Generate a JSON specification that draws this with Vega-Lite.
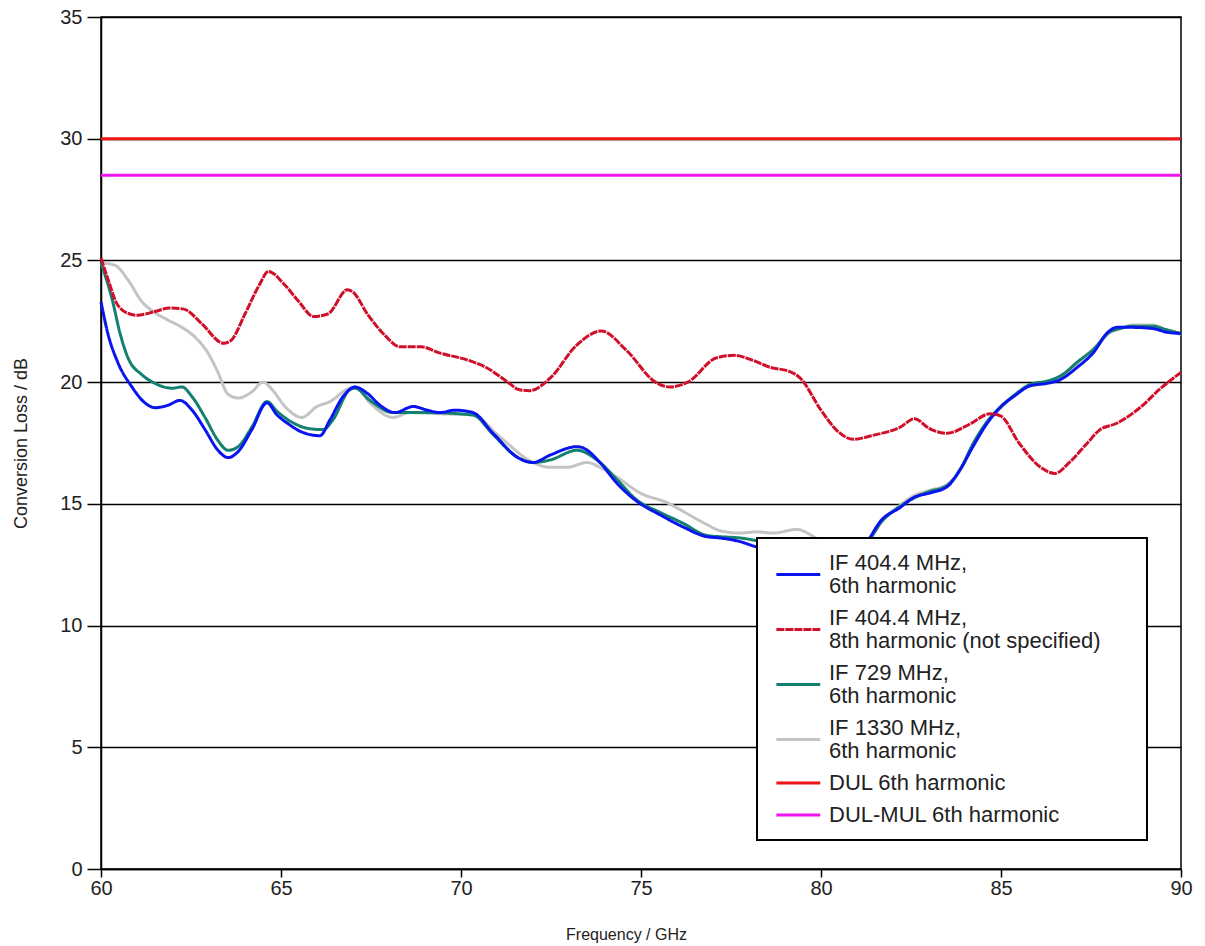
{
  "$schema": "https://vega.github.io/schema/vega-lite/v6.json",
  "width": 1080,
  "height": 852,
  "autosize": {"type": "none"},
  "padding": {"left": 101, "top": 17, "right": 24, "bottom": 77},
  "background": "white",
  "config": {
    "view": {"stroke": "black", "strokeWidth": 1.5},
    "font": "Liberation Sans"
  },
  "data": {"values": [
    {"s": "IF 1330 MHz, 6th harmonic", "f": 60.0, "v": 24.9},
    {"s": "IF 1330 MHz, 6th harmonic", "f": 60.39, "v": 24.8},
    {"s": "IF 1330 MHz, 6th harmonic", "f": 60.75, "v": 24.2},
    {"s": "IF 1330 MHz, 6th harmonic", "f": 61.14, "v": 23.3},
    {"s": "IF 1330 MHz, 6th harmonic", "f": 61.5, "v": 22.85},
    {"s": "IF 1330 MHz, 6th harmonic", "f": 61.86, "v": 22.55},
    {"s": "IF 1330 MHz, 6th harmonic", "f": 62.25, "v": 22.25},
    {"s": "IF 1330 MHz, 6th harmonic", "f": 62.61, "v": 21.85},
    {"s": "IF 1330 MHz, 6th harmonic", "f": 62.97, "v": 21.2},
    {"s": "IF 1330 MHz, 6th harmonic", "f": 63.25, "v": 20.4},
    {"s": "IF 1330 MHz, 6th harmonic", "f": 63.53, "v": 19.5},
    {"s": "IF 1330 MHz, 6th harmonic", "f": 63.81, "v": 19.35},
    {"s": "IF 1330 MHz, 6th harmonic", "f": 64.19, "v": 19.6},
    {"s": "IF 1330 MHz, 6th harmonic", "f": 64.5, "v": 20.0},
    {"s": "IF 1330 MHz, 6th harmonic", "f": 64.75, "v": 19.7},
    {"s": "IF 1330 MHz, 6th harmonic", "f": 65.11, "v": 19.0},
    {"s": "IF 1330 MHz, 6th harmonic", "f": 65.58, "v": 18.55},
    {"s": "IF 1330 MHz, 6th harmonic", "f": 66.0, "v": 19.0},
    {"s": "IF 1330 MHz, 6th harmonic", "f": 66.36, "v": 19.2},
    {"s": "IF 1330 MHz, 6th harmonic", "f": 66.83, "v": 19.7},
    {"s": "IF 1330 MHz, 6th harmonic", "f": 67.06, "v": 19.8},
    {"s": "IF 1330 MHz, 6th harmonic", "f": 67.47, "v": 19.15},
    {"s": "IF 1330 MHz, 6th harmonic", "f": 68.11, "v": 18.55},
    {"s": "IF 1330 MHz, 6th harmonic", "f": 68.58, "v": 18.75},
    {"s": "IF 1330 MHz, 6th harmonic", "f": 69.42, "v": 18.7},
    {"s": "IF 1330 MHz, 6th harmonic", "f": 70.33, "v": 18.65},
    {"s": "IF 1330 MHz, 6th harmonic", "f": 71.08, "v": 17.75},
    {"s": "IF 1330 MHz, 6th harmonic", "f": 72.0, "v": 16.7},
    {"s": "IF 1330 MHz, 6th harmonic", "f": 72.47, "v": 16.5},
    {"s": "IF 1330 MHz, 6th harmonic", "f": 72.94, "v": 16.5},
    {"s": "IF 1330 MHz, 6th harmonic", "f": 73.5, "v": 16.7},
    {"s": "IF 1330 MHz, 6th harmonic", "f": 73.86, "v": 16.5},
    {"s": "IF 1330 MHz, 6th harmonic", "f": 74.33, "v": 16.1},
    {"s": "IF 1330 MHz, 6th harmonic", "f": 74.97, "v": 15.45},
    {"s": "IF 1330 MHz, 6th harmonic", "f": 75.72, "v": 15.05},
    {"s": "IF 1330 MHz, 6th harmonic", "f": 76.28, "v": 14.6},
    {"s": "IF 1330 MHz, 6th harmonic", "f": 76.83, "v": 14.15},
    {"s": "IF 1330 MHz, 6th harmonic", "f": 77.19, "v": 13.9},
    {"s": "IF 1330 MHz, 6th harmonic", "f": 77.75, "v": 13.8},
    {"s": "IF 1330 MHz, 6th harmonic", "f": 78.22, "v": 13.85},
    {"s": "IF 1330 MHz, 6th harmonic", "f": 78.67, "v": 13.8},
    {"s": "IF 1330 MHz, 6th harmonic", "f": 79.33, "v": 13.95},
    {"s": "IF 1330 MHz, 6th harmonic", "f": 80.0, "v": 13.5},
    {"s": "IF 1330 MHz, 6th harmonic", "f": 80.7, "v": 13.3},
    {"s": "IF 1330 MHz, 6th harmonic", "f": 81.3, "v": 13.5},
    {"s": "IF 1330 MHz, 6th harmonic", "f": 81.7, "v": 14.3},
    {"s": "IF 1330 MHz, 6th harmonic", "f": 82.2, "v": 14.95},
    {"s": "IF 1330 MHz, 6th harmonic", "f": 82.6, "v": 15.35},
    {"s": "IF 1330 MHz, 6th harmonic", "f": 83.0, "v": 15.55},
    {"s": "IF 1330 MHz, 6th harmonic", "f": 83.5, "v": 15.8},
    {"s": "IF 1330 MHz, 6th harmonic", "f": 83.9, "v": 16.45},
    {"s": "IF 1330 MHz, 6th harmonic", "f": 84.2, "v": 17.4},
    {"s": "IF 1330 MHz, 6th harmonic", "f": 84.6, "v": 18.3},
    {"s": "IF 1330 MHz, 6th harmonic", "f": 85.0, "v": 18.95},
    {"s": "IF 1330 MHz, 6th harmonic", "f": 85.4, "v": 19.5},
    {"s": "IF 1330 MHz, 6th harmonic", "f": 85.8, "v": 19.85},
    {"s": "IF 1330 MHz, 6th harmonic", "f": 86.3, "v": 20.0},
    {"s": "IF 1330 MHz, 6th harmonic", "f": 86.7, "v": 20.25},
    {"s": "IF 1330 MHz, 6th harmonic", "f": 87.1, "v": 20.75},
    {"s": "IF 1330 MHz, 6th harmonic", "f": 87.6, "v": 21.35},
    {"s": "IF 1330 MHz, 6th harmonic", "f": 88.0, "v": 22.0},
    {"s": "IF 1330 MHz, 6th harmonic", "f": 88.3, "v": 22.2},
    {"s": "IF 1330 MHz, 6th harmonic", "f": 88.7, "v": 22.35},
    {"s": "IF 1330 MHz, 6th harmonic", "f": 89.2, "v": 22.35},
    {"s": "IF 1330 MHz, 6th harmonic", "f": 89.6, "v": 22.15},
    {"s": "IF 1330 MHz, 6th harmonic", "f": 90.0, "v": 21.95},

    {"s": "IF 729 MHz, 6th harmonic", "f": 60.0, "v": 24.9},
    {"s": "IF 729 MHz, 6th harmonic", "f": 60.31, "v": 23.4},
    {"s": "IF 729 MHz, 6th harmonic", "f": 60.53, "v": 22.0},
    {"s": "IF 729 MHz, 6th harmonic", "f": 60.75, "v": 21.0},
    {"s": "IF 729 MHz, 6th harmonic", "f": 61.14, "v": 20.3},
    {"s": "IF 729 MHz, 6th harmonic", "f": 61.5, "v": 19.95},
    {"s": "IF 729 MHz, 6th harmonic", "f": 61.97, "v": 19.75},
    {"s": "IF 729 MHz, 6th harmonic", "f": 62.25, "v": 19.8},
    {"s": "IF 729 MHz, 6th harmonic", "f": 62.53, "v": 19.4},
    {"s": "IF 729 MHz, 6th harmonic", "f": 62.89, "v": 18.55},
    {"s": "IF 729 MHz, 6th harmonic", "f": 63.25, "v": 17.6},
    {"s": "IF 729 MHz, 6th harmonic", "f": 63.53, "v": 17.2},
    {"s": "IF 729 MHz, 6th harmonic", "f": 63.81, "v": 17.35},
    {"s": "IF 729 MHz, 6th harmonic", "f": 64.19, "v": 18.15},
    {"s": "IF 729 MHz, 6th harmonic", "f": 64.61, "v": 19.2},
    {"s": "IF 729 MHz, 6th harmonic", "f": 64.89, "v": 18.8},
    {"s": "IF 729 MHz, 6th harmonic", "f": 65.31, "v": 18.35},
    {"s": "IF 729 MHz, 6th harmonic", "f": 65.75, "v": 18.1},
    {"s": "IF 729 MHz, 6th harmonic", "f": 66.17, "v": 18.05},
    {"s": "IF 729 MHz, 6th harmonic", "f": 66.44, "v": 18.45},
    {"s": "IF 729 MHz, 6th harmonic", "f": 66.92, "v": 19.7},
    {"s": "IF 729 MHz, 6th harmonic", "f": 67.06, "v": 19.75},
    {"s": "IF 729 MHz, 6th harmonic", "f": 67.47, "v": 19.25},
    {"s": "IF 729 MHz, 6th harmonic", "f": 68.11, "v": 18.75},
    {"s": "IF 729 MHz, 6th harmonic", "f": 69.06, "v": 18.75},
    {"s": "IF 729 MHz, 6th harmonic", "f": 70.33, "v": 18.65},
    {"s": "IF 729 MHz, 6th harmonic", "f": 70.89, "v": 17.85},
    {"s": "IF 729 MHz, 6th harmonic", "f": 71.58, "v": 16.9},
    {"s": "IF 729 MHz, 6th harmonic", "f": 72.0, "v": 16.7},
    {"s": "IF 729 MHz, 6th harmonic", "f": 72.47, "v": 16.8},
    {"s": "IF 729 MHz, 6th harmonic", "f": 73.22, "v": 17.2},
    {"s": "IF 729 MHz, 6th harmonic", "f": 73.86, "v": 16.7},
    {"s": "IF 729 MHz, 6th harmonic", "f": 74.33, "v": 16.0},
    {"s": "IF 729 MHz, 6th harmonic", "f": 74.89, "v": 15.15},
    {"s": "IF 729 MHz, 6th harmonic", "f": 75.53, "v": 14.65},
    {"s": "IF 729 MHz, 6th harmonic", "f": 76.17, "v": 14.2},
    {"s": "IF 729 MHz, 6th harmonic", "f": 76.83, "v": 13.7},
    {"s": "IF 729 MHz, 6th harmonic", "f": 77.19, "v": 13.65},
    {"s": "IF 729 MHz, 6th harmonic", "f": 77.75, "v": 13.6},
    {"s": "IF 729 MHz, 6th harmonic", "f": 78.5, "v": 13.4},
    {"s": "IF 729 MHz, 6th harmonic", "f": 79.5, "v": 13.1},
    {"s": "IF 729 MHz, 6th harmonic", "f": 80.5, "v": 13.0},
    {"s": "IF 729 MHz, 6th harmonic", "f": 81.2, "v": 13.3},
    {"s": "IF 729 MHz, 6th harmonic", "f": 81.7, "v": 14.3},
    {"s": "IF 729 MHz, 6th harmonic", "f": 82.2, "v": 14.9},
    {"s": "IF 729 MHz, 6th harmonic", "f": 82.6, "v": 15.25},
    {"s": "IF 729 MHz, 6th harmonic", "f": 83.0, "v": 15.5},
    {"s": "IF 729 MHz, 6th harmonic", "f": 83.5, "v": 15.75},
    {"s": "IF 729 MHz, 6th harmonic", "f": 83.9, "v": 16.5},
    {"s": "IF 729 MHz, 6th harmonic", "f": 84.2, "v": 17.4},
    {"s": "IF 729 MHz, 6th harmonic", "f": 84.6, "v": 18.35},
    {"s": "IF 729 MHz, 6th harmonic", "f": 85.0, "v": 19.0},
    {"s": "IF 729 MHz, 6th harmonic", "f": 85.4, "v": 19.5},
    {"s": "IF 729 MHz, 6th harmonic", "f": 85.8, "v": 19.9},
    {"s": "IF 729 MHz, 6th harmonic", "f": 86.3, "v": 20.05},
    {"s": "IF 729 MHz, 6th harmonic", "f": 86.7, "v": 20.3},
    {"s": "IF 729 MHz, 6th harmonic", "f": 87.1, "v": 20.8},
    {"s": "IF 729 MHz, 6th harmonic", "f": 87.6, "v": 21.4},
    {"s": "IF 729 MHz, 6th harmonic", "f": 88.0, "v": 22.05},
    {"s": "IF 729 MHz, 6th harmonic", "f": 88.3, "v": 22.2},
    {"s": "IF 729 MHz, 6th harmonic", "f": 88.7, "v": 22.3},
    {"s": "IF 729 MHz, 6th harmonic", "f": 89.2, "v": 22.3},
    {"s": "IF 729 MHz, 6th harmonic", "f": 89.6, "v": 22.15},
    {"s": "IF 729 MHz, 6th harmonic", "f": 90.0, "v": 22.0},

    {"s": "IF 404.4 MHz, 6th harmonic", "f": 60.0, "v": 23.3},
    {"s": "IF 404.4 MHz, 6th harmonic", "f": 60.19, "v": 22.0},
    {"s": "IF 404.4 MHz, 6th harmonic", "f": 60.47, "v": 20.8},
    {"s": "IF 404.4 MHz, 6th harmonic", "f": 60.86, "v": 19.8},
    {"s": "IF 404.4 MHz, 6th harmonic", "f": 61.22, "v": 19.15},
    {"s": "IF 404.4 MHz, 6th harmonic", "f": 61.5, "v": 18.95},
    {"s": "IF 404.4 MHz, 6th harmonic", "f": 61.86, "v": 19.05},
    {"s": "IF 404.4 MHz, 6th harmonic", "f": 62.19, "v": 19.25},
    {"s": "IF 404.4 MHz, 6th harmonic", "f": 62.53, "v": 18.85},
    {"s": "IF 404.4 MHz, 6th harmonic", "f": 62.89, "v": 18.05},
    {"s": "IF 404.4 MHz, 6th harmonic", "f": 63.25, "v": 17.2},
    {"s": "IF 404.4 MHz, 6th harmonic", "f": 63.53, "v": 16.9},
    {"s": "IF 404.4 MHz, 6th harmonic", "f": 63.81, "v": 17.15},
    {"s": "IF 404.4 MHz, 6th harmonic", "f": 64.19, "v": 18.05},
    {"s": "IF 404.4 MHz, 6th harmonic", "f": 64.61, "v": 19.15},
    {"s": "IF 404.4 MHz, 6th harmonic", "f": 64.89, "v": 18.65},
    {"s": "IF 404.4 MHz, 6th harmonic", "f": 65.19, "v": 18.3},
    {"s": "IF 404.4 MHz, 6th harmonic", "f": 65.58, "v": 17.95},
    {"s": "IF 404.4 MHz, 6th harmonic", "f": 66.08, "v": 17.8},
    {"s": "IF 404.4 MHz, 6th harmonic", "f": 66.36, "v": 18.45},
    {"s": "IF 404.4 MHz, 6th harmonic", "f": 66.72, "v": 19.4},
    {"s": "IF 404.4 MHz, 6th harmonic", "f": 67.06, "v": 19.8},
    {"s": "IF 404.4 MHz, 6th harmonic", "f": 67.39, "v": 19.55},
    {"s": "IF 404.4 MHz, 6th harmonic", "f": 67.75, "v": 19.05},
    {"s": "IF 404.4 MHz, 6th harmonic", "f": 68.17, "v": 18.75},
    {"s": "IF 404.4 MHz, 6th harmonic", "f": 68.67, "v": 19.0},
    {"s": "IF 404.4 MHz, 6th harmonic", "f": 69.06, "v": 18.85},
    {"s": "IF 404.4 MHz, 6th harmonic", "f": 69.42, "v": 18.75},
    {"s": "IF 404.4 MHz, 6th harmonic", "f": 69.83, "v": 18.85},
    {"s": "IF 404.4 MHz, 6th harmonic", "f": 70.33, "v": 18.75},
    {"s": "IF 404.4 MHz, 6th harmonic", "f": 70.89, "v": 17.9},
    {"s": "IF 404.4 MHz, 6th harmonic", "f": 71.58, "v": 16.9},
    {"s": "IF 404.4 MHz, 6th harmonic", "f": 72.0, "v": 16.7},
    {"s": "IF 404.4 MHz, 6th harmonic", "f": 72.47, "v": 17.0},
    {"s": "IF 404.4 MHz, 6th harmonic", "f": 73.22, "v": 17.35},
    {"s": "IF 404.4 MHz, 6th harmonic", "f": 73.39, "v": 17.3},
    {"s": "IF 404.4 MHz, 6th harmonic", "f": 73.86, "v": 16.7},
    {"s": "IF 404.4 MHz, 6th harmonic", "f": 74.33, "v": 15.85},
    {"s": "IF 404.4 MHz, 6th harmonic", "f": 74.89, "v": 15.1},
    {"s": "IF 404.4 MHz, 6th harmonic", "f": 75.53, "v": 14.55},
    {"s": "IF 404.4 MHz, 6th harmonic", "f": 76.17, "v": 14.05},
    {"s": "IF 404.4 MHz, 6th harmonic", "f": 76.83, "v": 13.65},
    {"s": "IF 404.4 MHz, 6th harmonic", "f": 77.19, "v": 13.6},
    {"s": "IF 404.4 MHz, 6th harmonic", "f": 77.75, "v": 13.45},
    {"s": "IF 404.4 MHz, 6th harmonic", "f": 78.17, "v": 13.25},
    {"s": "IF 404.4 MHz, 6th harmonic", "f": 78.6, "v": 13.1},
    {"s": "IF 404.4 MHz, 6th harmonic", "f": 79.3, "v": 12.95},
    {"s": "IF 404.4 MHz, 6th harmonic", "f": 80.0, "v": 12.85},
    {"s": "IF 404.4 MHz, 6th harmonic", "f": 80.7, "v": 12.9},
    {"s": "IF 404.4 MHz, 6th harmonic", "f": 81.2, "v": 13.3},
    {"s": "IF 404.4 MHz, 6th harmonic", "f": 81.69, "v": 14.35},
    {"s": "IF 404.4 MHz, 6th harmonic", "f": 82.2, "v": 14.85},
    {"s": "IF 404.4 MHz, 6th harmonic", "f": 82.56, "v": 15.25},
    {"s": "IF 404.4 MHz, 6th harmonic", "f": 83.03, "v": 15.45},
    {"s": "IF 404.4 MHz, 6th harmonic", "f": 83.5, "v": 15.7},
    {"s": "IF 404.4 MHz, 6th harmonic", "f": 83.86, "v": 16.4},
    {"s": "IF 404.4 MHz, 6th harmonic", "f": 84.22, "v": 17.35},
    {"s": "IF 404.4 MHz, 6th harmonic", "f": 84.61, "v": 18.3},
    {"s": "IF 404.4 MHz, 6th harmonic", "f": 84.97, "v": 18.95},
    {"s": "IF 404.4 MHz, 6th harmonic", "f": 85.39, "v": 19.45},
    {"s": "IF 404.4 MHz, 6th harmonic", "f": 85.81, "v": 19.85},
    {"s": "IF 404.4 MHz, 6th harmonic", "f": 86.28, "v": 19.95},
    {"s": "IF 404.4 MHz, 6th harmonic", "f": 86.64, "v": 20.1},
    {"s": "IF 404.4 MHz, 6th harmonic", "f": 87.11, "v": 20.6},
    {"s": "IF 404.4 MHz, 6th harmonic", "f": 87.56, "v": 21.2},
    {"s": "IF 404.4 MHz, 6th harmonic", "f": 87.97, "v": 22.05},
    {"s": "IF 404.4 MHz, 6th harmonic", "f": 88.22, "v": 22.25},
    {"s": "IF 404.4 MHz, 6th harmonic", "f": 88.67, "v": 22.25},
    {"s": "IF 404.4 MHz, 6th harmonic", "f": 89.22, "v": 22.2},
    {"s": "IF 404.4 MHz, 6th harmonic", "f": 89.61, "v": 22.05},
    {"s": "IF 404.4 MHz, 6th harmonic", "f": 90.0, "v": 22.0},

    {"s": "IF 404.4 MHz, 8th harmonic (not specified)", "f": 60.0, "v": 25.1},
    {"s": "IF 404.4 MHz, 8th harmonic (not specified)", "f": 60.2, "v": 24.2},
    {"s": "IF 404.4 MHz, 8th harmonic (not specified)", "f": 60.45, "v": 23.2},
    {"s": "IF 404.4 MHz, 8th harmonic (not specified)", "f": 60.8, "v": 22.8},
    {"s": "IF 404.4 MHz, 8th harmonic (not specified)", "f": 61.0, "v": 22.75},
    {"s": "IF 404.4 MHz, 8th harmonic (not specified)", "f": 61.5, "v": 22.9},
    {"s": "IF 404.4 MHz, 8th harmonic (not specified)", "f": 61.9, "v": 23.05},
    {"s": "IF 404.4 MHz, 8th harmonic (not specified)", "f": 62.3, "v": 23.0},
    {"s": "IF 404.4 MHz, 8th harmonic (not specified)", "f": 62.8, "v": 22.4},
    {"s": "IF 404.4 MHz, 8th harmonic (not specified)", "f": 63.4, "v": 21.6},
    {"s": "IF 404.4 MHz, 8th harmonic (not specified)", "f": 63.6, "v": 21.7},
    {"s": "IF 404.4 MHz, 8th harmonic (not specified)", "f": 64.0, "v": 22.8},
    {"s": "IF 404.4 MHz, 8th harmonic (not specified)", "f": 64.4, "v": 24.0},
    {"s": "IF 404.4 MHz, 8th harmonic (not specified)", "f": 64.65, "v": 24.55},
    {"s": "IF 404.4 MHz, 8th harmonic (not specified)", "f": 65.1, "v": 24.0},
    {"s": "IF 404.4 MHz, 8th harmonic (not specified)", "f": 65.5, "v": 23.3},
    {"s": "IF 404.4 MHz, 8th harmonic (not specified)", "f": 65.9, "v": 22.7},
    {"s": "IF 404.4 MHz, 8th harmonic (not specified)", "f": 66.3, "v": 22.8},
    {"s": "IF 404.4 MHz, 8th harmonic (not specified)", "f": 66.85, "v": 23.8},
    {"s": "IF 404.4 MHz, 8th harmonic (not specified)", "f": 67.0, "v": 23.7},
    {"s": "IF 404.4 MHz, 8th harmonic (not specified)", "f": 67.4, "v": 22.8},
    {"s": "IF 404.4 MHz, 8th harmonic (not specified)", "f": 67.9, "v": 21.9},
    {"s": "IF 404.4 MHz, 8th harmonic (not specified)", "f": 68.3, "v": 21.45},
    {"s": "IF 404.4 MHz, 8th harmonic (not specified)", "f": 68.9, "v": 21.45},
    {"s": "IF 404.4 MHz, 8th harmonic (not specified)", "f": 69.4, "v": 21.2},
    {"s": "IF 404.4 MHz, 8th harmonic (not specified)", "f": 70.2, "v": 20.9},
    {"s": "IF 404.4 MHz, 8th harmonic (not specified)", "f": 70.7, "v": 20.6},
    {"s": "IF 404.4 MHz, 8th harmonic (not specified)", "f": 71.3, "v": 20.0},
    {"s": "IF 404.4 MHz, 8th harmonic (not specified)", "f": 71.6, "v": 19.7},
    {"s": "IF 404.4 MHz, 8th harmonic (not specified)", "f": 71.9, "v": 19.65},
    {"s": "IF 404.4 MHz, 8th harmonic (not specified)", "f": 72.5, "v": 20.2},
    {"s": "IF 404.4 MHz, 8th harmonic (not specified)", "f": 73.2, "v": 21.5},
    {"s": "IF 404.4 MHz, 8th harmonic (not specified)", "f": 73.9, "v": 22.1},
    {"s": "IF 404.4 MHz, 8th harmonic (not specified)", "f": 74.6, "v": 21.3},
    {"s": "IF 404.4 MHz, 8th harmonic (not specified)", "f": 75.4, "v": 20.0},
    {"s": "IF 404.4 MHz, 8th harmonic (not specified)", "f": 75.8, "v": 19.8},
    {"s": "IF 404.4 MHz, 8th harmonic (not specified)", "f": 76.3, "v": 20.0},
    {"s": "IF 404.4 MHz, 8th harmonic (not specified)", "f": 77.1, "v": 21.0},
    {"s": "IF 404.4 MHz, 8th harmonic (not specified)", "f": 77.6, "v": 21.1},
    {"s": "IF 404.4 MHz, 8th harmonic (not specified)", "f": 78.1, "v": 20.9},
    {"s": "IF 404.4 MHz, 8th harmonic (not specified)", "f": 78.6, "v": 20.6},
    {"s": "IF 404.4 MHz, 8th harmonic (not specified)", "f": 79.1, "v": 20.45},
    {"s": "IF 404.4 MHz, 8th harmonic (not specified)", "f": 79.4, "v": 20.2},
    {"s": "IF 404.4 MHz, 8th harmonic (not specified)", "f": 80.0, "v": 18.85},
    {"s": "IF 404.4 MHz, 8th harmonic (not specified)", "f": 80.45, "v": 18.0},
    {"s": "IF 404.4 MHz, 8th harmonic (not specified)", "f": 80.9, "v": 17.65},
    {"s": "IF 404.4 MHz, 8th harmonic (not specified)", "f": 81.4, "v": 17.8},
    {"s": "IF 404.4 MHz, 8th harmonic (not specified)", "f": 82.2, "v": 18.15},
    {"s": "IF 404.4 MHz, 8th harmonic (not specified)", "f": 82.6, "v": 18.5},
    {"s": "IF 404.4 MHz, 8th harmonic (not specified)", "f": 83.0, "v": 18.1},
    {"s": "IF 404.4 MHz, 8th harmonic (not specified)", "f": 83.5, "v": 17.9},
    {"s": "IF 404.4 MHz, 8th harmonic (not specified)", "f": 84.1, "v": 18.25},
    {"s": "IF 404.4 MHz, 8th harmonic (not specified)", "f": 84.7, "v": 18.7},
    {"s": "IF 404.4 MHz, 8th harmonic (not specified)", "f": 85.0, "v": 18.6},
    {"s": "IF 404.4 MHz, 8th harmonic (not specified)", "f": 85.5, "v": 17.5},
    {"s": "IF 404.4 MHz, 8th harmonic (not specified)", "f": 86.1, "v": 16.5},
    {"s": "IF 404.4 MHz, 8th harmonic (not specified)", "f": 86.5, "v": 16.25},
    {"s": "IF 404.4 MHz, 8th harmonic (not specified)", "f": 86.9, "v": 16.7},
    {"s": "IF 404.4 MHz, 8th harmonic (not specified)", "f": 87.4, "v": 17.5},
    {"s": "IF 404.4 MHz, 8th harmonic (not specified)", "f": 87.75, "v": 18.05},
    {"s": "IF 404.4 MHz, 8th harmonic (not specified)", "f": 88.2, "v": 18.3},
    {"s": "IF 404.4 MHz, 8th harmonic (not specified)", "f": 88.9, "v": 19.0},
    {"s": "IF 404.4 MHz, 8th harmonic (not specified)", "f": 89.4, "v": 19.7},
    {"s": "IF 404.4 MHz, 8th harmonic (not specified)", "f": 90.0, "v": 20.4},

    {"s": "DUL 6th harmonic", "f": 60.0, "v": 30.0},
    {"s": "DUL 6th harmonic", "f": 90.0, "v": 30.0},
    {"s": "DUL-MUL 6th harmonic", "f": 60.0, "v": 28.5},
    {"s": "DUL-MUL 6th harmonic", "f": 90.0, "v": 28.5}
  ]},
  "mark": {"type": "line", "strokeWidth": 3, "interpolate": "monotone"},
  "encoding": {
    "x": {
      "field": "f", "type": "quantitative",
      "scale": {"domain": [60, 90], "nice": false, "zero": false},
      "axis": {
        "values": [60, 65, 70, 75, 80, 85, 90],
        "grid": false,
        "domainColor": "black", "domainWidth": 1.5,
        "tickColor": "black", "tickSize": 8, "tickWidth": 1.5,
        "labelFontSize": 20, "labelColor": "#222222", "labelPadding": 1, "labelFlush": false,
        "title": "Frequency / GHz", "titleFontSize": 16, "titleFontWeight": "normal", "titleColor": "#222222",
        "titleX": 525, "titleY": 70, "titleBaseline": "alphabetic", "titleAlign": "center"
      }
    },
    "y": {
      "field": "v", "type": "quantitative",
      "scale": {"domain": [0, 35], "nice": false},
      "axis": {
        "values": [0, 5, 10, 15, 20, 25, 30, 35],
        "grid": true, "gridColor": "black", "gridWidth": 1.5, "gridOpacity": 1,
        "domainColor": "black", "domainWidth": 1.5,
        "tickColor": "black", "tickSize": 14, "tickWidth": 1.5,
        "labelFontSize": 20, "labelColor": "#222222", "labelPadding": 5,
        "title": "Conversion Loss / dB", "titleFontSize": 18, "titleFontWeight": "normal", "titleColor": "#222222",
        "titleX": -75, "titleY": 426, "titleAngle": -90, "titleAlign": "center", "titleBaseline": "alphabetic"
      }
    },
    "color": {
      "field": "s", "type": "nominal",
      "scale": {
        "domain": ["IF 404.4 MHz, 6th harmonic", "IF 404.4 MHz, 8th harmonic (not specified)", "IF 729 MHz, 6th harmonic", "IF 1330 MHz, 6th harmonic", "DUL 6th harmonic", "DUL-MUL 6th harmonic"],
        "range": ["#0a14f0", "#d0102a", "#138070", "#c4c4c4", "#f01414", "#f014f0"]
      },
      "legend": {
        "orient": "none", "legendX": 656, "legendY": 521, "title": null,
        "symbolType": "M-1.25,0H8.5", "symbolSize": 81, "symbolStrokeWidth": 3,
        "labelFontSize": 22, "labelColor": "#222222", "labelOffset": 36, "labelLimit": 600,
        "labelExpr": "datum.value == 'IF 404.4 MHz, 8th harmonic (not specified)' ? ['IF 404.4 MHz,', '8th harmonic (not specified)\u2800\u2800'] : split(replace(datum.label, ', ', ',|'), '|')",
        "padding": 14, "rowPadding": 10,
        "strokeColor": "black", "fillColor": "white",
        "encoding": {
          "symbols": {
            "y": {"value": {"expr": "indexof(datum.value, ', ') >= 0 ? 22.5 : 11"}},
            "strokeDash": {"value": {"expr": "datum.value == 'IF 404.4 MHz, 8th harmonic (not specified)' ? [3, 3] : [1, 0]"}}
          },
          "labels": {"lineHeight": {"value": 23}},
          "legend": {"strokeWidth": {"value": 2}}
        }
      }
    },
    "strokeDash": {
      "field": "s", "type": "nominal",
      "scale": {
        "domain": ["IF 404.4 MHz, 6th harmonic", "IF 404.4 MHz, 8th harmonic (not specified)", "IF 729 MHz, 6th harmonic", "IF 1330 MHz, 6th harmonic", "DUL 6th harmonic", "DUL-MUL 6th harmonic"],
        "range": [[1, 0], [8, 1], [1, 0], [1, 0], [1, 0], [1, 0]]
      },
      "legend": {
        "orient": "none", "legendX": 656, "legendY": 521, "title": null,
        "symbolType": "M-1.25,0H8.5", "symbolSize": 81, "symbolStrokeWidth": 3,
        "labelFontSize": 22, "labelColor": "#222222", "labelOffset": 36, "labelLimit": 600,
        "labelExpr": "datum.value == 'IF 404.4 MHz, 8th harmonic (not specified)' ? ['IF 404.4 MHz,', '8th harmonic (not specified)\u2800\u2800'] : split(replace(datum.label, ', ', ',|'), '|')",
        "padding": 14, "rowPadding": 10,
        "strokeColor": "black", "fillColor": "white",
        "encoding": {
          "symbols": {
            "y": {"value": {"expr": "indexof(datum.value, ', ') >= 0 ? 22.5 : 11"}},
            "strokeDash": {"value": {"expr": "datum.value == 'IF 404.4 MHz, 8th harmonic (not specified)' ? [3, 3] : [1, 0]"}}
          },
          "labels": {"lineHeight": {"value": 23}},
          "legend": {"strokeWidth": {"value": 2}}
        }
      }
    }
  }
}
